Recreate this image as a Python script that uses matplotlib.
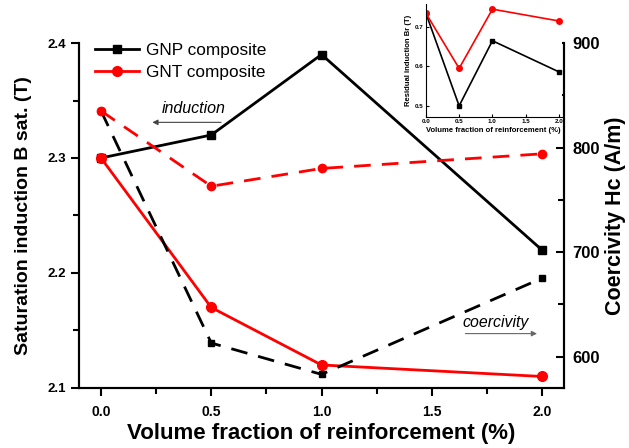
import numpy as np
import matplotlib
matplotlib.use('Agg')
import matplotlib.pyplot as plt

plt.rcParams['font.family'] = ['Liberation Sans', 'DejaVu Sans']

# volume fraction (%)
vf = [0.0, 0.5, 1.0, 2.0]

# saturation induction (T), left axis
bs_gnp = [2.30, 2.32, 2.39, 2.22]
bs_gnt = [2.30, 2.17, 2.12, 2.11]

# coercivity (A/m), right axis
hc_gnp = [835, 613, 583, 675]
hc_gnt = [835, 763, 780, 794]

# residual induction (T), inset
br_gnp = [0.735, 0.50, 0.665, 0.586]
br_gnt = [0.735, 0.595, 0.745, 0.715]

fig = plt.figure(figsize=(6.29, 4.48), dpi=100)
ax = fig.add_axes([0.1256, 0.134, 0.7711, 0.770])
ax2 = ax.twinx()

l1, = ax.plot(vf, bs_gnp, '-s', color='black', lw=2, ms=6, zorder=4)
l2, = ax.plot(vf, bs_gnt, '-o', color='red', lw=2, ms=7, zorder=4)
ax2.plot(vf, hc_gnp, '--s', color='black', lw=2, ms=5, dashes=(6, 4))
ax2.plot(vf, hc_gnt, '--o', color='red', lw=2, ms=6, dashes=(6, 4))

ax.set_xlim(-0.1, 2.1)
ax.set_ylim(2.1, 2.4)
ax2.set_ylim(570, 900)

ax.set_xticks([0.0, 0.5, 1.0, 1.5, 2.0])
ax.set_xticks([0.25, 0.75, 1.25, 1.75], minor=True)
ax.set_yticks([2.1, 2.2, 2.3, 2.4])
ax.set_yticks([2.15, 2.25, 2.35], minor=True)
ax2.set_yticks([600, 700, 800, 900])
ax2.set_yticks([650, 750, 850], minor=True)

for a in (ax, ax2):
    a.spines['top'].set_visible(False)
    for s in a.spines.values():
        s.set_linewidth(1.5)
    a.tick_params(which='major', length=6, width=1.5)
    a.tick_params(which='minor', length=4, width=1.5)

ax.tick_params(axis='x', labelsize=10, pad=6)
ax.tick_params(axis='y', labelsize=9.5)
ax2.tick_params(axis='y', which='both', direction='in', labelsize=12, pad=6)
for lab in ax.get_xticklabels() + ax.get_yticklabels() + ax2.get_yticklabels():
    lab.set_fontweight('bold')

ax.set_xlabel('Volume fraction of reinforcement (%)', fontsize=16, fontweight='bold', labelpad=3)
ax.set_ylabel('Saturation induction B sat. (T)', fontsize=14, fontweight='bold', labelpad=11)
ax2.set_ylabel('Coercivity Hc (A/m)', fontsize=15.5, fontweight='bold', labelpad=4)

ax.legend([l1, l2], ['GNP composite', 'GNT composite'], loc='upper left',
          bbox_to_anchor=(0.0, 1.045), frameon=False, fontsize=12.4,
          handlelength=2.6, handletextpad=0.4, labelspacing=0.4)

# arrows with labels
ax.annotate('', xy=(0.22, 2.331), xytext=(0.557, 2.331),
            arrowprops=dict(arrowstyle='-|>', color='#444444', lw=0.8, mutation_scale=8))
ax.text(0.42, 2.343, 'induction', style='italic', fontsize=11.5, ha='center', va='center')
ax2.annotate('', xy=(1.99, 622), xytext=(1.64, 622),
             arrowprops=dict(arrowstyle='-|>', color='#666666', lw=0.8, mutation_scale=8))
ax2.text(1.79, 633, 'coercivity', style='italic', fontsize=11.4, ha='center', va='center')

# inset: residual induction
ins = fig.add_axes([0.677, 0.739, 0.216, 0.252])
ins.plot(vf, br_gnp, '-s', color='black', lw=1.2, ms=3)
ins.plot(vf, br_gnt, '-o', color='red', lw=1.2, ms=4)
ins.set_xlim(0.0, 2.04)
ins.set_ylim(0.472, 0.758)
ins.spines['top'].set_visible(False)
ins.spines['right'].set_visible(False)
ins.set_xticks([0.0, 0.5, 1.0, 1.5, 2.0])
ins.set_yticks([0.5, 0.6, 0.7])
ins.tick_params(which='both', direction='in', labelsize=4.5, length=2, pad=1.5)
for lab in ins.get_xticklabels() + ins.get_yticklabels():
    lab.set_fontweight('bold')
ins.set_xlabel('Volume fraction of reinforcement (%)', fontsize=5.5, fontweight='bold', labelpad=2)
ins.set_ylabel('Residual induction Br (T)', fontsize=5.5, fontweight='bold', labelpad=2)

fig.savefig('out.png', dpi=100)
